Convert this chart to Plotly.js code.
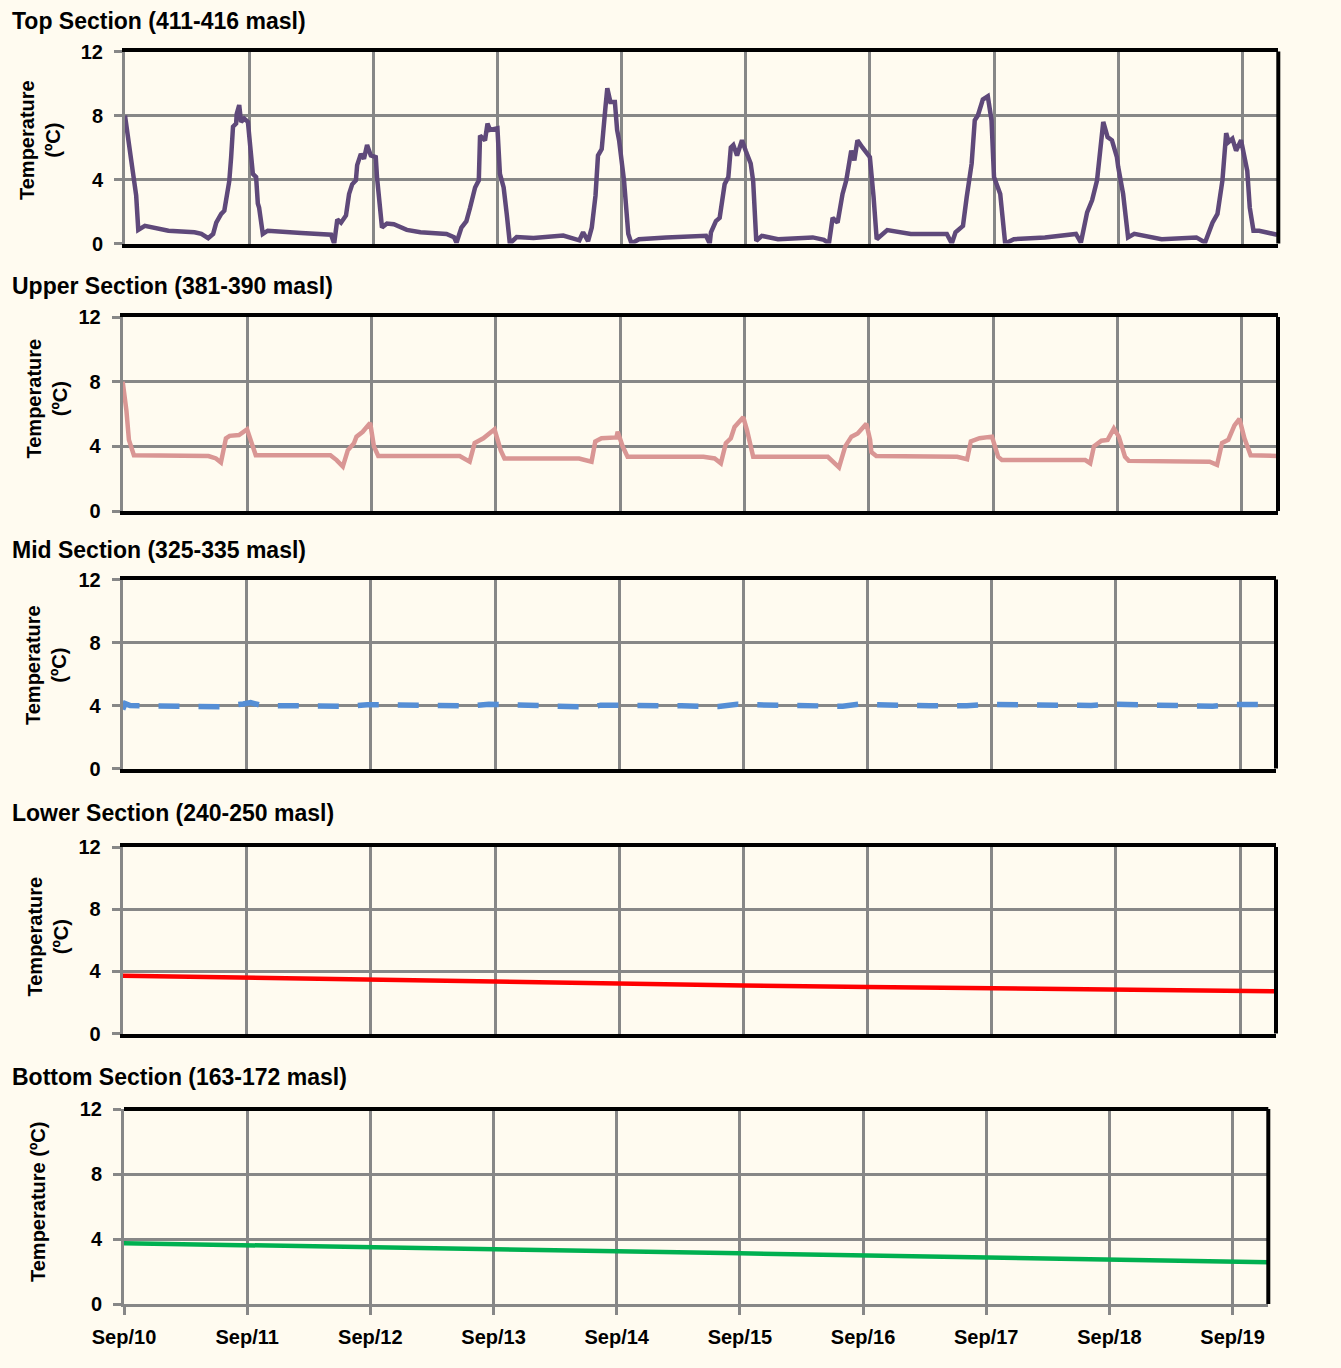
<!DOCTYPE html>
<html>
<head>
<meta charset="utf-8">
<script src="https://cdn.plot.ly/plotly-3.0.1.min.js"></script>
<style>
  html, body { margin: 0; padding: 0; background: #FFFBF0; }
  #chart { width: 1341px; height: 1368px; }
</style>
</head>
<body>
<div id="chart"></div>
<script>
// ---------------- DATA ----------------
const sectionTitles = [
  "Top Section (411-416 masl)",
  "Upper Section (381-390 masl)",
  "Mid Section (325-335 masl)",
  "Lower Section (240-250 masl)",
  "Bottom Section (163-172 masl)"
];
const dayTicks = [0, 1, 2, 3, 4, 5, 6, 7, 8, 9];
const dayLabels = ["Sep/10", "Sep/11", "Sep/12", "Sep/13", "Sep/14", "Sep/15", "Sep/16", "Sep/17", "Sep/18", "Sep/19"];
const tempTicks = [0, 4, 8, 12];

// time in days since Sep/10 00:00
const topDays = [0.00,0.03,0.05,0.09,0.107,0.16,0.35,0.56,0.615,0.67,0.71,0.735,0.775,0.80,0.84,0.855,0.87,0.895,0.90,0.92,0.935,0.96,0.99,1.03,1.056,1.07,1.08,1.11,1.15,1.42,1.66,1.685,
  1.71,1.74,1.78,1.805,1.83,1.86,1.87,1.90,1.925,1.95,1.98,2.02,2.03,2.07,2.11,2.165,2.27,2.38,2.59,2.65,2.67,
  2.71,2.75,2.78,2.82,2.85,2.86,2.90,2.92,2.94,3.00,3.02,3.05,3.075,3.10,3.155,3.29,3.53,3.66,3.69,3.73,
  3.76,3.79,3.81,3.84,3.87,3.885,3.91,3.946,3.964,3.98,4.02,4.054,4.08,4.14,4.36,4.68,4.71,
  4.72,4.76,4.79,4.83,4.86,4.88,4.90,4.93,4.97,5.00,5.04,5.06,5.085,5.13,5.26,5.54,5.63,5.67,
  5.70,5.74,5.78,5.81,5.85,5.875,5.90,5.94,5.975,6.00,6.03,6.055,6.14,6.33,6.62,6.66,
  6.69,6.75,6.78,6.82,6.845,6.87,6.91,6.95,6.98,7.00,7.05,7.09,7.16,7.41,7.66,7.70,
  7.75,7.79,7.83,7.88,7.915,7.95,7.99,8.00,8.04,8.08,8.13,8.35,8.63,8.70,
  8.76,8.80,8.84,8.87,8.89,8.92,8.95,8.99,9.04,9.06,9.09,9.135,9.28];
const topTemp = [8.0,6.0,5.2,3.0,0.85,1.1,0.8,0.7,0.6,0.33,0.6,1.3,1.85,2.05,3.9,5.4,7.3,7.5,8.1,8.65,7.6,7.8,7.6,4.35,4.15,2.5,2.25,0.6,0.8,0.65,0.55,0.0,
  1.5,1.3,1.75,3.1,3.7,3.95,4.9,5.6,5.3,6.15,5.5,5.4,4.15,1.0,1.25,1.2,0.85,0.7,0.6,0.4,0.05,
  1.0,1.4,2.25,3.5,3.95,6.75,6.45,7.5,7.1,7.2,4.35,3.5,1.85,0.0,0.4,0.35,0.5,0.2,0.7,0.15,
  1.0,3.0,5.5,5.9,8.5,9.7,8.85,8.85,7.1,6.45,3.9,0.6,0.0,0.27,0.38,0.48,0.0,
  0.7,1.4,1.6,3.7,4.15,6.0,6.15,5.5,6.45,5.8,5.0,3.9,0.17,0.48,0.27,0.38,0.23,0.0,
  1.6,1.3,3.1,3.95,5.8,5.2,6.45,6.0,5.7,5.4,2.9,0.27,0.84,0.6,0.6,0.0,
  0.7,1.1,2.9,5.0,7.7,8.0,9.0,9.2,7.7,4.15,3.1,0.0,0.27,0.38,0.6,0.06,
  1.95,2.7,3.95,7.6,6.65,6.45,5.4,4.8,3.1,0.38,0.6,0.27,0.38,0.06,
  1.3,1.85,3.95,6.9,6.35,6.55,5.8,6.45,4.55,2.25,0.8,0.8,0.55];

const upperDays = [0.0,0.03,0.05,0.09,0.69,0.75,0.79,0.83,0.86,0.935,1.0,1.04,1.07,
  1.67,1.72,1.77,1.81,1.86,1.88,1.93,1.99,2.02,2.055,
  2.71,2.79,2.83,2.90,2.99,3.04,3.07,
  3.67,3.77,3.80,3.85,3.97,3.98,4.02,4.06,
  4.67,4.76,4.81,4.85,4.89,4.92,4.99,5.02,5.04,5.07,
  5.67,5.76,5.81,5.86,5.91,5.98,6.01,6.02,6.06,
  6.71,6.79,6.82,6.89,6.99,7.04,7.07,
  7.74,7.78,7.81,7.87,7.92,7.97,8.01,8.06,8.09,
  8.74,8.80,8.84,8.89,8.94,8.98,9.02,9.07,9.29];
const upperTemp = [8.0,6.2,4.4,3.45,3.4,3.25,3.0,4.5,4.65,4.7,5.05,4.0,3.45,
  3.45,3.15,2.75,3.75,4.2,4.6,4.9,5.45,4.0,3.4,
  3.4,3.05,4.2,4.5,5.05,3.75,3.25,
  3.25,3.05,4.3,4.5,4.55,4.9,4.0,3.35,
  3.35,3.25,2.95,4.2,4.5,5.2,5.8,5.0,4.4,3.35,
  3.35,2.7,4.0,4.6,4.8,5.4,4.4,3.65,3.4,
  3.35,3.2,4.3,4.5,4.6,3.35,3.15,
  3.15,2.95,4.0,4.35,4.4,5.1,4.6,3.35,3.1,
  3.05,2.85,4.2,4.4,5.3,5.7,4.5,3.45,3.4];

const midDays = [0.00,0.02,0.06,0.5,0.8,0.97,1.03,1.12,1.5,1.8,1.97,2.05,2.15,2.5,2.8,2.95,3.05,3.5,3.78,3.85,4.0,
  4.5,4.8,4.95,5.05,5.5,5.8,5.95,6.05,6.5,6.8,6.98,7.1,7.5,7.8,7.98,8.1,8.5,8.78,8.95,9.29];
const midTemp = [3.75,4.12,4.0,3.95,3.92,4.1,4.18,4.0,3.97,3.95,4.05,4.05,4.0,3.98,3.97,4.08,4.05,3.98,3.9,4.02,4.02,
  3.98,3.93,4.08,4.05,4.0,3.95,4.1,4.05,3.98,3.98,4.07,4.05,4.02,4.0,4.08,4.05,4.02,3.95,4.07,4.05];

const lowerDays = [0, 1, 2, 3, 4, 5, 6, 7, 8, 9, 9.29];
const lowerTemp = [3.72, 3.58, 3.45, 3.33, 3.2, 3.09, 2.99, 2.92, 2.84, 2.75, 2.72];

const bottomDays = [0, 1, 2, 3, 4, 5, 6, 7, 8, 9, 9.29];
const bottomTemp = [3.74, 3.6, 3.47, 3.35, 3.24, 3.12, 3.0, 2.86, 2.72, 2.62, 2.57];

// ---------------- LAYOUT ----------------
const W = 1341, H = 1368;
const px2x = p => p / W;
const px2y = p => 1 - p / H;
const BG = '#FFFBF0';
const GRID = '#878787';
const FONT = 'Liberation Sans, Arial, sans-serif';

// panel boxes in pixels: [left, right, top, bottom]
const boxes = [
  [125, 1278.3, 51.5, 243.5],
  [122.7, 1278, 317, 511],
  [122.7, 1276, 579.5, 768.5],
  [122.7, 1276, 847, 1033.5],
  [124, 1268.3, 1109, 1304]
];
const titleY = [21, 286, 550, 813, 1077];
const ytitleX = [40, 46.5, 46, 47.5, 38];
const ytitleY = [140, 399, 665, 937, 1202];
const ytitleText = ["Temperature<br>(ºC)", "Temperature<br>(ºC)", "Temperature<br>(ºC)", "Temperature<br>(ºC)", "Temperature (ºC)"];

const series = [
  {x: topDays, y: topTemp, line: {color: '#5F497A', width: 4.5}},
  {x: upperDays, y: upperTemp, line: {color: '#D99694', width: 4.5}},
  {x: midDays, y: midTemp, line: {color: '#558ED5', width: 5.5, dash: '21px,19px'}},
  {x: lowerDays, y: lowerTemp, line: {color: '#FF0000', width: 4.5}},
  {x: bottomDays, y: bottomTemp, line: {color: '#00B050', width: 4.5}}
];

const data = [];
const layout = {
  width: W, height: H,
  margin: {l: 0, r: 0, t: 0, b: 0},
  paper_bgcolor: BG, plot_bgcolor: BG,
  showlegend: false,
  font: {family: FONT, size: 20, color: '#000'},
  shapes: [], annotations: []
};

for (let i = 0; i < 5; i++) {
  const n = i + 1;
  const xa = 'x' + (n === 1 ? '' : n), ya = 'y' + (n === 1 ? '' : n);
  const xk = 'xaxis' + (n === 1 ? '' : n), yk = 'yaxis' + (n === 1 ? '' : n);
  const [L, R, T, B] = boxes[i];
  const last = (i === 4);
  data.push({
    type: 'scatter', mode: 'lines', x: series[i].x, y: series[i].y,
    xaxis: xa, yaxis: ya, line: series[i].line, hoverinfo: 'skip'
  });
  layout[xk] = {
    domain: [px2x(L), px2x(R)], range: [0, 9.29], anchor: ya,
    tickmode: 'array', tickvals: dayTicks, ticktext: dayLabels,
    showticklabels: last, ticks: last ? 'outside' : '', ticklen: 8, tickwidth: 3, tickcolor: GRID,
    ticklabelstandoff: 5,
    showgrid: true, gridcolor: GRID, gridwidth: 3, zeroline: false,
    showline: true, linecolor: last ? GRID : '#000', linewidth: last ? 3 : 4,
    mirror: !last, layer: 'below traces',
    tickfont: {family: FONT, size: 20, color: '#000', weight: 'bold'},
    fixedrange: true
  };
  layout[yk] = {
    domain: [px2y(B), px2y(T)], range: [0, 12], anchor: xa,
    tickmode: 'array', tickvals: tempTicks,
    ticks: 'outside', ticklen: 8, tickwidth: 3, tickcolor: GRID,
    ticklabelstandoff: 7,
    showgrid: true, gridcolor: GRID, gridwidth: 3, zeroline: false,
    showline: true, linecolor: GRID, linewidth: 3,
    tickfont: {family: FONT, size: 20, color: '#000', weight: 'bold'},
    fixedrange: true
  };
  const xd = xa + ' domain', yd = ya + ' domain';
  if (last) {
    layout.shapes.push({type: 'line', xref: xd, yref: yd, x0: 0, x1: 1, y0: 1, y1: 1, line: {color: '#000', width: 4}, layer: 'above'});
  }
  // right border
  layout.shapes.push({type: 'line', xref: xd, yref: yd, x0: 1, x1: 1, y0: 0, y1: 1, line: {color: '#000', width: 4}, layer: 'above'});
  // section title
  layout.annotations.push({
    text: sectionTitles[i], xref: 'paper', yref: 'paper',
    x: px2x(10), y: px2y(titleY[i]), xanchor: 'left', yanchor: 'middle',
    showarrow: false, font: {family: FONT, size: 23, color: '#000', weight: 'bold'}
  });
  // y-axis title
  layout.annotations.push({
    text: ytitleText[i], xref: 'paper', yref: 'paper',
    x: px2x(ytitleX[i]), y: px2y(ytitleY[i]), xanchor: 'center', yanchor: 'middle',
    textangle: -90, showarrow: false,
    font: {family: FONT, size: 20, color: '#000', weight: 'bold'}
  });
}

Plotly.newPlot('chart', data, layout, {staticPlot: true, displayModeBar: false});
</script>
</body>
</html>
